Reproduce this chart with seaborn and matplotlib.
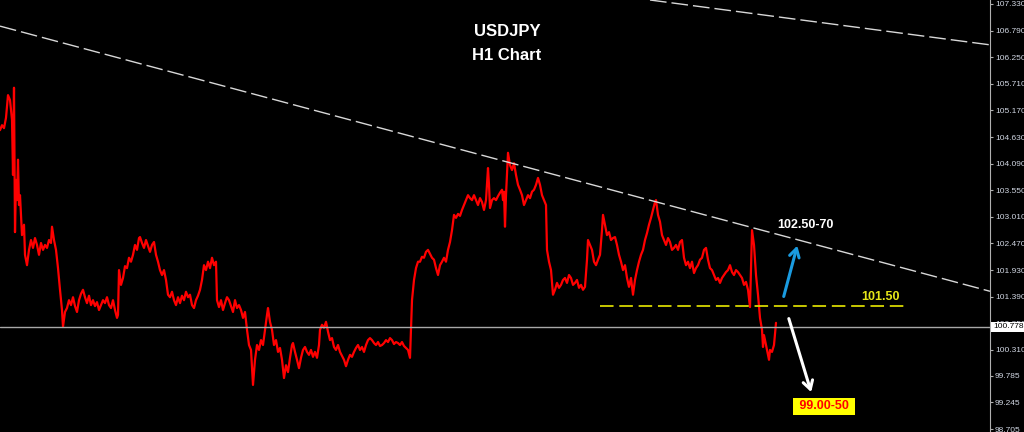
import matplotlib
matplotlib.use("Agg")
import matplotlib.pyplot as plt
import seaborn as sns
import pandas as pd

# H1 bars (bar index) and USDJPY close prices
bars = [0, 2, 4, 6, 8, 10, 12, 13, 14, 15, 16, 17, 18, 19, 20, 22, 24, 25, 27, 29,
        31, 33, 35, 37, 39, 41, 43, 45, 47, 49, 51, 52, 54, 56, 58, 60, 62, 63, 65, 67,
        69, 71, 73, 75, 77, 79, 81, 83, 85, 87, 89, 91, 93, 95, 97, 99, 101, 103, 105, 107,
        109, 111, 113, 115, 117, 118, 119, 121, 123, 125, 127, 129, 131, 133, 135, 137, 139, 140, 142, 144,
        146, 148, 150, 152, 154, 156, 158, 160, 162, 164, 166, 168, 170, 172, 174, 176, 178, 180, 182, 184,
        186, 188, 190, 192, 194, 196, 198, 200, 202, 204, 206, 208, 210, 212, 214, 216, 217, 219, 221, 223,
        225, 227, 229, 231, 233, 235, 237, 239, 241, 243, 245, 247, 249, 251, 253, 255, 257, 259, 261, 263,
        265, 267, 268, 270, 272, 274, 276, 278, 280, 282, 284, 286, 288, 290, 292, 293, 295, 297, 299, 301,
        303, 305, 307, 309, 311, 313, 315, 317, 319, 320, 322, 324, 326, 328, 330, 332, 334, 336, 338, 340,
        342, 344, 346, 348, 350, 352, 354, 356, 358, 360, 362, 364, 366, 368, 370, 372, 374, 376, 378, 380,
        382, 384, 386, 388, 390, 392, 394, 396, 398, 400, 402, 404, 406, 408, 410, 411, 412, 414, 416, 418,
        420, 422, 424, 426, 428, 430, 432, 434, 436, 438, 440, 442, 444, 446, 448, 450, 452, 454, 456, 458,
        460, 462, 464, 466, 468, 470, 472, 474, 476, 478, 480, 482, 484, 486, 488, 489, 490, 492, 494, 496,
        498, 500, 502, 503, 504, 505, 506, 508, 510, 512, 514, 516, 518, 520, 522, 524, 526, 528, 530, 532,
        534, 536, 538, 540, 542, 544, 546, 547, 549, 551, 553, 555, 557, 559, 561, 563, 565, 567, 569, 571,
        573, 575, 577, 579, 581, 583, 585, 587, 588, 590, 592, 594, 596, 598, 600, 602, 603, 605, 607, 609,
        611, 613, 615, 617, 619, 621, 623, 625, 627, 629, 631, 633, 635, 637, 639, 641, 643, 645, 647, 649,
        651, 653, 655, 656, 658, 660, 662, 664, 666, 668, 670, 672, 674, 676, 678, 680, 682, 684, 686, 688,
        690, 692, 694, 696, 698, 700, 702, 704, 706, 708, 710, 712, 714, 716, 718, 720, 722, 724, 726, 728,
        730, 732, 734, 736, 738, 740, 742, 744, 746, 748, 750, 751, 752, 754, 756, 758, 760, 762, 763, 764,
        766, 768, 769, 770, 772, 774, 776]
prices = [104.77, 104.87, 104.81, 105.02, 105.48, 105.38, 104.98, 103.86, 105.63, 102.70, 103.76, 103.35, 104.17, 103.25, 103.45, 102.64, 102.85, 102.24, 102.03, 102.34,
          102.54, 102.38, 102.58, 102.44, 102.24, 102.48, 102.34, 102.44, 102.38, 102.54, 102.48, 102.81, 102.54, 102.34, 101.97, 101.53, 101.12, 100.78, 101.08, 101.16,
          101.32, 101.22, 101.38, 101.20, 101.08, 101.32, 101.45, 101.53, 101.38, 101.26, 101.41, 101.22, 101.32, 101.20, 101.28, 101.12, 101.22, 101.32, 101.26, 101.38,
          101.22, 101.16, 101.32, 101.12, 100.96, 101.02, 101.93, 101.63, 101.77, 102.01, 101.97, 102.18, 102.10, 102.24, 102.44, 102.34, 102.58, 102.60, 102.48, 102.38,
          102.54, 102.42, 102.30, 102.44, 102.50, 102.24, 102.10, 101.93, 101.83, 101.93, 101.73, 101.43, 101.38, 101.49, 101.32, 101.22, 101.38, 101.26, 101.41, 101.32,
          101.49, 101.38, 101.43, 101.22, 101.16, 101.32, 101.41, 101.53, 101.73, 102.03, 101.93, 102.10, 101.97, 102.18, 102.03, 102.10, 101.32, 101.18, 101.32, 101.12,
          101.26, 101.38, 101.32, 101.20, 101.08, 101.32, 101.16, 101.22, 101.12, 100.96, 101.08, 100.72, 100.41, 100.31, 99.60, 100.11, 100.41, 100.31, 100.51, 100.41,
          100.72, 101.02, 101.16, 100.88, 100.72, 100.41, 100.51, 100.27, 100.35, 100.11, 99.74, 100.00, 99.86, 100.15, 100.41, 100.45, 100.27, 100.11, 99.94, 100.15,
          100.31, 100.37, 100.27, 100.21, 100.31, 100.17, 100.27, 100.15, 100.41, 100.72, 100.82, 100.76, 100.88, 100.68, 100.51, 100.55, 100.37, 100.31, 100.41, 100.27,
          100.19, 100.11, 99.98, 100.11, 100.21, 100.17, 100.27, 100.35, 100.41, 100.31, 100.37, 100.27, 100.41, 100.51, 100.55, 100.51, 100.45, 100.41, 100.47, 100.39,
          100.41, 100.45, 100.51, 100.47, 100.55, 100.51, 100.43, 100.47, 100.45, 100.41, 100.47, 100.39, 100.35, 100.31, 100.15, 100.72, 101.32, 101.73, 101.97, 102.10,
          102.10, 102.20, 102.18, 102.30, 102.34, 102.26, 102.18, 102.14, 101.97, 101.83, 102.03, 102.10, 102.18, 102.10, 102.34, 102.50, 102.74, 103.05, 102.99, 103.07,
          103.03, 103.15, 103.25, 103.35, 103.45, 103.39, 103.35, 103.45, 103.35, 103.25, 103.39, 103.31, 103.15, 103.35, 104.00, 103.66, 103.19, 103.35, 103.39, 103.35,
          103.43, 103.50, 103.56, 103.35, 103.52, 102.81, 103.45, 104.31, 104.06, 103.96, 104.10, 103.86, 103.66, 103.56, 103.45, 103.25, 103.35, 103.45, 103.39, 103.52,
          103.56, 103.66, 103.80, 103.66, 103.45, 103.35, 103.25, 102.34, 102.10, 101.93, 101.43, 101.53, 101.67, 101.57, 101.63, 101.73, 101.77, 101.67, 101.83, 101.77,
          101.63, 101.67, 101.73, 101.57, 101.63, 101.53, 101.59, 102.14, 102.54, 102.44, 102.34, 102.10, 102.03, 102.14, 102.24, 102.74, 103.05, 102.85, 102.64, 102.70,
          102.54, 102.58, 102.60, 102.44, 102.24, 102.10, 101.93, 102.03, 101.77, 101.59, 101.77, 101.43, 101.73, 101.93, 102.10, 102.24, 102.34, 102.54, 102.68, 102.85,
          102.99, 103.15, 103.31, 103.35, 103.05, 102.91, 102.64, 102.54, 102.44, 102.58, 102.50, 102.34, 102.38, 102.44, 102.34, 102.50, 102.54, 102.18, 102.03, 102.10,
          101.97, 102.10, 101.87, 101.97, 102.03, 102.14, 102.18, 102.34, 102.38, 102.14, 101.97, 101.93, 101.83, 101.73, 101.77, 101.67, 101.77, 101.83, 101.89, 101.93,
          102.03, 101.89, 101.83, 101.93, 101.89, 101.83, 101.77, 101.63, 101.69, 101.53, 101.18, 101.93, 102.74, 102.44, 101.83, 101.43, 100.96, 100.72, 100.37, 100.61,
          100.41, 100.21, 100.11, 100.31, 100.27, 100.41, 100.86]

# right-hand price scale
tick_values = [107.330, 106.790, 106.250, 105.710, 105.170, 104.630, 104.090, 103.550, 103.010,
               102.470, 101.930, 101.390, 100.850, 100.310, 99.785, 99.245, 98.705]
tick_labels = ["107.330", "106.790", "106.250", "105.710", "105.170", "104.630", "104.090", "103.550", "103.010",
               "102.470", "101.930", "101.390", "100.850", "100.310", "99.785", "99.245", "98.705"]

current_price = 100.778
support_level = 101.20
support_bars = [600, 906]
trend_main = ([0, 990], [106.88, 101.50])
trend_upper = ([650, 990], [107.41, 106.50])

df = pd.DataFrame({"bar": bars, "price": prices})

sns.set_style("dark", {"axes.facecolor": "black", "figure.facecolor": "black"})
plt.rcParams["font.family"] = ["Liberation Sans", "DejaVu Sans"]

fig = plt.figure(figsize=(10.24, 4.32), dpi=100)
ax = fig.add_axes([0, 0, 990 / 1024, 1])

# price series
sns.lineplot(data=df, x="bar", y="price", color="#ff0000", linewidth=1.6, ax=ax)

# trend lines
ax.plot(*trend_main, color="#d8d8d8", linewidth=1.0, linestyle=(0, (12, 3.6)))
ax.plot(*trend_upper, color="#d8d8d8", linewidth=1.0, linestyle=(0, (12, 3.6)))

# current price line
ax.axhline(current_price, color="#a8a8a8", linewidth=1.0)

# support line
ax.plot(support_bars, [support_level, support_level], color="#d8d800", linewidth=1.3,
        linestyle=(0, (7.5, 3.2)))

# scenario arrows
ax.annotate("", xy=(798, 102.48), xytext=(783, 101.34),
            arrowprops=dict(arrowstyle="->,head_length=0.6,head_width=0.35", color="#1a9be0", lw=2.2))
ax.annotate("", xy=(812, 99.40), xytext=(788, 101.00),
            arrowprops=dict(arrowstyle="->,head_length=0.6,head_width=0.35", color="white", lw=2.2))

ax.text(805, 102.85, "102.50-70", color="white", fontsize=9, fontweight="bold", ha="center", va="center")
ax.text(881, 101.38, "101.50", color="#e6e619", fontsize=9, fontweight="bold", ha="center", va="center")
ax.text(824, 99.17, " 99.00-50 ", color="#ff0000", fontsize=9, fontweight="bold", ha="center", va="center",
        bbox=dict(boxstyle="square,pad=0.2", fc="#ffff00", ec="none"))

# title
ax.text(507, 106.78, "USDJPY", color="white", fontsize=12,
        fontweight="bold", ha="center", va="center")
ax.text(507, 106.28, "H1 Chart", color="white", fontsize=12,
        fontweight="bold", ha="center", va="center")

# axes styling
ax.set_xlim(0, 990)
ax.set_ylim(98.645, 107.41)
ax.set_xlabel("")
ax.set_ylabel("")
ax.set_xticks([])
ax.yaxis.tick_right()
ax.set_yticks(tick_values)
ax.set_yticklabels(tick_labels)
ax.tick_params(axis="y", colors="#b0b0b0", labelcolor="#d0d6e2", length=2.5, width=0.8, pad=1,
               labelsize=6, right=True, left=False)
ax.grid(False)
for side in ["top", "left", "bottom"]:
    ax.spines[side].set_visible(False)
ax.spines["right"].set_color("#b0b0b0")
ax.spines["right"].set_linewidth(0.8)

# current price tag on the scale
ax.text(1.003, current_price, "100.778", transform=ax.get_yaxis_transform(), color="black",
        fontsize=6, ha="left", va="center",
        bbox=dict(boxstyle="square,pad=0.2", fc="white", ec="none"), clip_on=False)

fig.savefig("out.png", dpi=100, facecolor="black")
